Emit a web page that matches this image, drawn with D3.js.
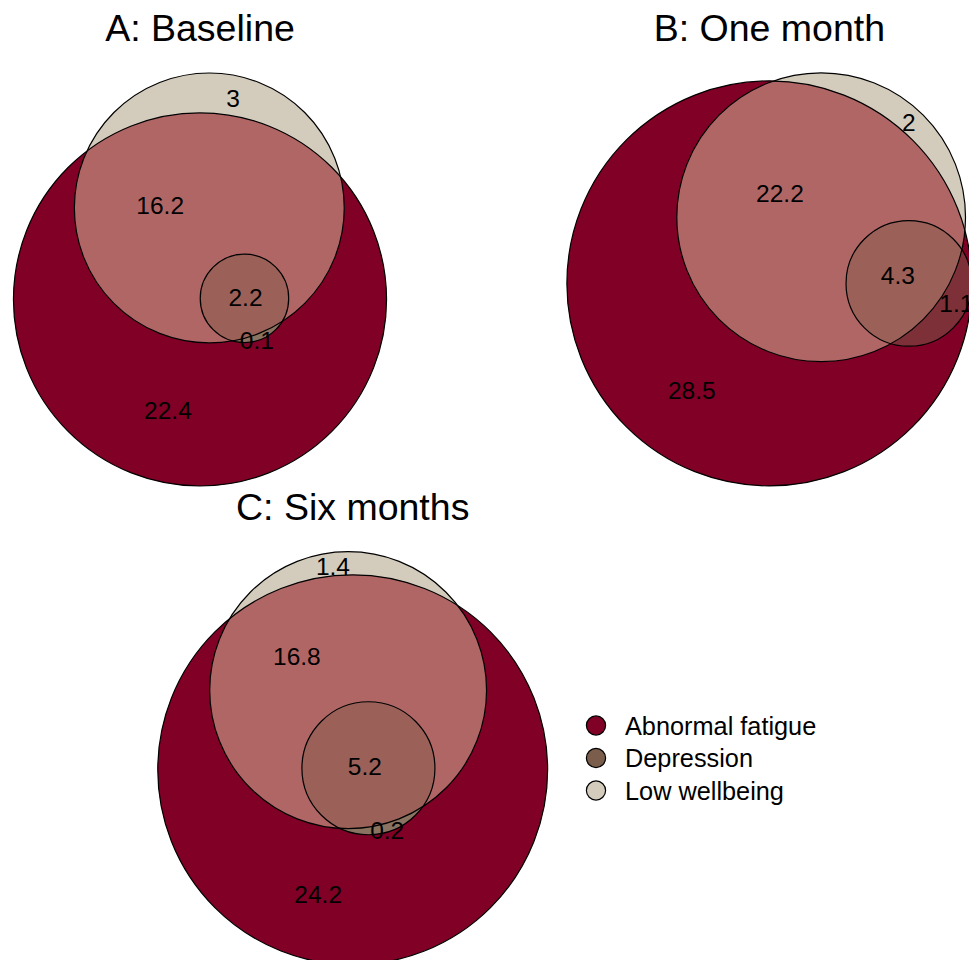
<!DOCTYPE html>
<html>
<head>
<meta charset="utf-8">
<script src="https://cdn.jsdelivr.net/npm/d3@7"></script>
<style>
  html, body { margin: 0; padding: 0; background: #ffffff; }
  svg { display: block; }
  text { font-family: "Liberation Sans", Arial, Helvetica, sans-serif; fill: #000; }
</style>
</head>
<body>
<svg id="chart" width="969" height="960"></svg>
<script>
// ---------------- DATA ----------------
const setNames = ["Abnormal fatigue", "Depression", "Low wellbeing"];
const setKeys = ["F", "D", "L"];
const panelTitles = ["A: Baseline", "B: One month", "C: Six months"];

// disjoint region sizes (percent) per panel
const regionsA = [
  { key: "F", value: 22.4 }, { key: "L", value: 3 }, { key: "F&L", value: 16.2 },
  { key: "F&D&L", value: 2.2 }, { key: "F&D", value: 0.1 }
];
const regionsB = [
  { key: "F", value: 28.5 }, { key: "L", value: 2 }, { key: "F&L", value: 22.2 },
  { key: "F&D&L", value: 4.3 }, { key: "F&D", value: 1.1 }
];
const regionsC = [
  { key: "F", value: 24.2 }, { key: "L", value: 1.4 }, { key: "F&L", value: 16.8 },
  { key: "F&D&L", value: 5.2 }, { key: "F&D", value: 0.2 }
];

// fitted circle centres (euler layout, data units, y downward)
const centresA = { F: [0, 0], L: [0.18, -1.77], D: [0.86, -0.02] };
const centresB = { F: [0, 0], L: [1.08, -1.38], D: [2.91, 0] };
const centresC = { F: [0, 0], L: [-0.09, -1.57], D: [0.31, -0.03] };

// label anchor points (data units)
const labelsA = { "F": [-0.62, 2.15], "L": [0.64, -3.90], "F&L": [-0.77, -1.82], "F&D&L": [0.88, -0.05], "F&D": [1.10, 0.78] };
const labelsB = { "F": [-1.62, 2.22], "L": [2.91, -3.37], "F&L": [0.22, -1.88], "F&D&L": [2.68, -0.17], "F&D": [3.90, 0.41] };
const labelsC = { "F": [-0.68, 2.46], "L": [-0.39, -4.01], "F&L": [-1.10, -2.23], "F&D&L": [0.24, -0.07], "F&D": [0.68, 1.19] };

// ---------------- STYLE / LAYOUT ----------------
const panelBoxes = [
  { cx: 200, cy: 279.5 },
  { cx: 769.4, cy: 279.4 },
  { cx: 352.7, cy: 758.2 }
];
const PANEL_H = 413;
const setColors = { F: "#800026", D: "#7A5D4B", L: "#D3CCBD" };
const mixColors = [
  { "F&L": "#B16666", "F&D": "#8A7461", "D&L": "#A3917F", "F&D&L": "#9B6159" },
  { "F&L": "#B16666", "F&D": "#7D3037", "D&L": "#A3917F", "F&D&L": "#9B6159" },
  { "F&L": "#B16666", "F&D": "#8A7461", "D&L": "#A3917F", "F&D&L": "#9B6159" }
];

const panels = [
  { title: panelTitles[0], regions: regionsA, centres: centresA, labels: labelsA },
  { title: panelTitles[1], regions: regionsB, centres: centresB, labels: labelsB },
  { title: panelTitles[2], regions: regionsC, centres: centresC, labels: labelsC }
];

const svg = d3.select("#chart");
svg.append("rect").attr("width", 969).attr("height", 960).attr("fill", "#fff");
const defs = svg.append("defs");

panels.forEach((p, pi) => {
  // set totals -> radii (area proportional to value)
  const totals = {};
  setKeys.forEach(k => {
    totals[k] = d3.sum(p.regions.filter(r => r.key.split("&").includes(k)), r => r.value);
  });
  const circles = setKeys.map(k => ({
    key: k, x: p.centres[k][0], y: p.centres[k][1], r: Math.sqrt(totals[k] / Math.PI)
  }));
  const xmin = d3.min(circles, c => c.x - c.r), xmax = d3.max(circles, c => c.x + c.r);
  const ymin = d3.min(circles, c => c.y - c.r), ymax = d3.max(circles, c => c.y + c.r);
  const s = PANEL_H / (ymax - ymin);
  const box = panelBoxes[pi];
  const xs = d3.scaleLinear().domain([xmin, xmax])
    .range([box.cx - (xmax - xmin) * s / 2, box.cx + (xmax - xmin) * s / 2]);
  const ys = d3.scaleLinear().domain([ymin, ymax])
    .range([box.cy - PANEL_H / 2, box.cy + PANEL_H / 2]);
  const rs = v => v * s;

  const byKey = {};
  circles.forEach(c => { byKey[c.key] = c; });

  // clip paths
  circles.forEach(c => {
    defs.append("clipPath").attr("id", `clip-${pi}-${c.key}`)
      .append("circle").attr("cx", xs(c.x)).attr("cy", ys(c.y)).attr("r", rs(c.r));
  });

  const g = svg.append("g");
  const circ = (sel, c, fill) => sel.append("circle")
    .attr("cx", xs(c.x)).attr("cy", ys(c.y)).attr("r", rs(c.r)).attr("fill", fill);

  // base sets
  circ(g, byKey.F, setColors.F);
  circ(g, byKey.L, setColors.L);
  circ(g.append("g").attr("clip-path", `url(#clip-${pi}-F)`), byKey.L, mixColors[pi]["F&L"]);
  circ(g, byKey.D, setColors.D);
  circ(g.append("g").attr("clip-path", `url(#clip-${pi}-F)`), byKey.D, mixColors[pi]["F&D"]);
  circ(g.append("g").attr("clip-path", `url(#clip-${pi}-L)`), byKey.D, mixColors[pi]["D&L"]);
  circ(g.append("g").attr("clip-path", `url(#clip-${pi}-F)`)
        .append("g").attr("clip-path", `url(#clip-${pi}-L)`), byKey.D, mixColors[pi]["F&D&L"]);

  // outlines
  g.selectAll("circle.outline").data(circles).join("circle")
    .attr("class", "outline")
    .attr("cx", c => xs(c.x)).attr("cy", c => ys(c.y)).attr("r", c => rs(c.r))
    .attr("fill", "none").attr("stroke", "#000").attr("stroke-width", 1.2);

  // region labels
  g.selectAll("text.lab").data(p.regions).join("text")
    .attr("class", "lab")
    .attr("x", d => xs(p.labels[d.key][0]))
    .attr("y", d => ys(p.labels[d.key][1]))
    .attr("dy", "0.36em")
    .attr("text-anchor", "middle")
    .attr("font-size", "24.5px")
    .text(d => d3.format("~g")(d.value));

  // title
  svg.append("text")
    .attr("x", box.cx)
    .attr("y", box.cy - PANEL_H / 2 - 32)
    .attr("text-anchor", "middle")
    .attr("font-size", "37.5px")
    .text(p.title);
});

// legend
const legY = d3.scalePoint().domain(setNames).range([725.5, 790.5]);
const leg = svg.append("g");
leg.selectAll("circle").data(setNames).join("circle")
  .attr("cx", 596).attr("cy", d => legY(d)).attr("r", 9.6)
  .attr("fill", (d, i) => setColors[setKeys[i]])
  .attr("stroke", "#000").attr("stroke-width", 1.2);
leg.selectAll("text").data(setNames).join("text")
  .attr("x", 625).attr("y", d => legY(d)).attr("dy", "0.36em")
  .attr("font-size", "25.3px")
  .text(d => d);
</script>
</body>
</html>
